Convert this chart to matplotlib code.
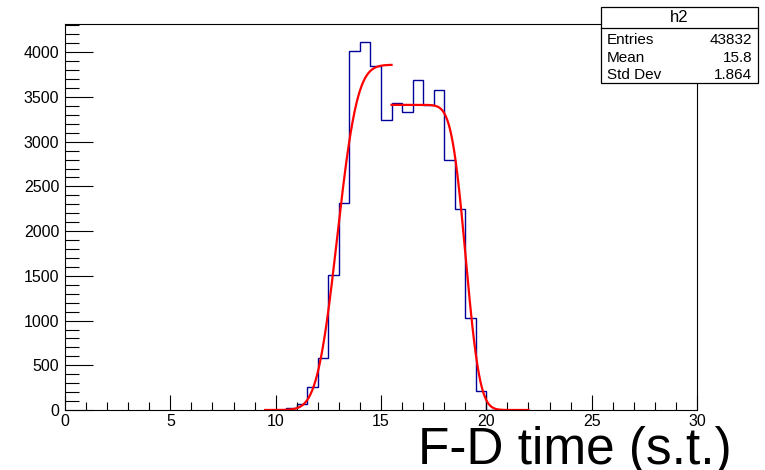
import math
import numpy as np
import matplotlib
matplotlib.use("Agg")
import matplotlib.pyplot as plt
from matplotlib.ticker import MultipleLocator

plt.rcParams["font.family"] = ["Liberation Sans", "DejaVu Sans"]

# histogram h2: bin width 0.5, first non-empty bin starts at 10.5
bin_start = 10.5
bin_width = 0.5
counts = [19, 67, 253, 577, 1507, 2314, 4018, 4111, 3843, 3244,
          3434, 3329, 3694, 3415, 3583, 2790, 2251, 1034, 216, 5]

# stats box
stat_names = ["Entries", "Mean", "Std Dev"]
stat_values = ["43832", "15.8", "1.864"]

# fit 1 (rising edge) and fit 2 (plateau + falling edge): erf parameters
fit1_range = (9.5, 15.5)
fit1_amp, fit1_mu, fit1_sigma = 3860, 12.92, 0.75
fit2_range = (15.5, 22.0)
fit2_amp, fit2_mu, fit2_sigma = 3412, 19.02, 0.53

erf = np.vectorize(math.erf)

fig = plt.figure(figsize=(7.65, 4.70), dpi=100)
W, H = 765.0, 470.0
ax = fig.add_axes([65 / W, (H - 410) / H, 632 / W, 386 / H])

edges = bin_start + bin_width * np.arange(len(counts) + 1)
ax.stairs(counts, edges, color="#000099", linewidth=1.0)

x1 = np.linspace(*fit1_range, 300)
y1 = fit1_amp / 2 * (1 + erf((x1 - fit1_mu) / (math.sqrt(2) * fit1_sigma)))
ax.plot(x1, y1, color="red", linewidth=1.6)

x2 = np.linspace(*fit2_range, 300)
y2 = fit2_amp / 2 * (1 - erf((x2 - fit2_mu) / (math.sqrt(2) * fit2_sigma)))
ax.plot(x2, y2, color="red", linewidth=1.6)

ax.set_xlim(0, 30)
ax.set_ylim(0, 4316)
ax.xaxis.set_major_locator(MultipleLocator(5))
ax.xaxis.set_minor_locator(MultipleLocator(1))
ax.yaxis.set_major_locator(MultipleLocator(500))
ax.yaxis.set_minor_locator(MultipleLocator(100))
ax.tick_params(axis="both", which="both", direction="in", labelsize=11.5,
               width=0.8, color="black")
ax.tick_params(axis="x", which="major", length=11, pad=3)
ax.tick_params(axis="x", which="minor", length=5.5)
ax.tick_params(axis="y", which="major", length=20, pad=4)
ax.tick_params(axis="y", which="minor", length=10)
for s in ax.spines.values():
    s.set_linewidth(0.8)

fig.text(732 / W, (H - 464) / H, "F-D time (s.t.)", fontsize=37,
         ha="right", va="baseline")

# stats box
bx0, bx1, by0, by1 = 601, 758, 7, 83
fig.patches.append(plt.Rectangle((bx0 / W, (H - by1) / H), (bx1 - bx0) / W,
                                 (by1 - by0) / H, transform=fig.transFigure,
                                 facecolor="white", edgecolor="black",
                                 linewidth=0.9, zorder=5))
fig.add_artist(plt.Line2D([bx0 / W, bx1 / W], [(H - 28) / H, (H - 28) / H],
                          transform=fig.transFigure, color="black",
                          linewidth=0.9, zorder=6))
fig.text((bx0 + bx1) / 2 / W, (H - 17) / H, "h2", fontsize=12,
         ha="center", va="center", zorder=7)
for i, (n, v) in enumerate(zip(stat_names, stat_values)):
    yy = (H - (40 + 17.5 * i)) / H
    fig.text((bx0 + 6) / W, yy, n, fontsize=11, ha="left", va="center", zorder=7)
    fig.text((bx1 - 6) / W, yy, v, fontsize=11, ha="right", va="center", zorder=7)

fig.savefig("out.png", dpi=100)
